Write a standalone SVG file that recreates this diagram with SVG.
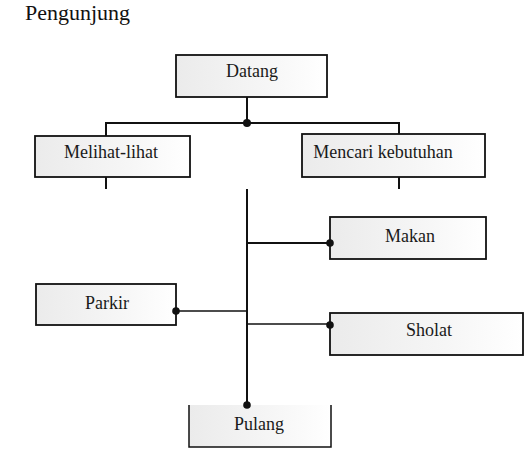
<svg xmlns="http://www.w3.org/2000/svg" width="531" height="456" viewBox="0 0 531 456">
<defs>
<linearGradient id="g" x1="0" y1="0" x2="1" y2="0">
<stop offset="0" stop-color="#ebebeb"/>
<stop offset="0.6" stop-color="#f6f6f6"/>
<stop offset="1" stop-color="#ffffff"/>
</linearGradient>
</defs>
<style>
.box{fill:url(#g);stroke:#111;stroke-width:1.8}
.lbl{font-family:"Liberation Serif","Times New Roman",serif;font-size:18px;fill:#1a1a1a;text-anchor:middle}
.title{font-family:"Liberation Serif","Times New Roman",serif;font-size:22px;fill:#111}
.ln{stroke:#111;stroke-width:2;fill:none}
.thin{stroke:#111;stroke-width:1.5;fill:none}
.dot{fill:#111}
</style>
<rect width="531" height="456" fill="#fff"/>
<text class="title" x="25" y="20">Pengunjung</text>
<g id="connectors">
<line class="ln" x1="247" y1="97" x2="247" y2="123"/>
<line class="ln" x1="106" y1="123" x2="399" y2="123"/>
<line class="ln" x1="106" y1="122" x2="106" y2="136"/>
<line class="ln" x1="399" y1="122" x2="399" y2="134"/>
<line class="ln" x1="106" y1="177" x2="106" y2="189"/>
<line class="ln" x1="399" y1="177" x2="399" y2="189"/>
<line class="ln" x1="247" y1="189" x2="247" y2="405"/>
<line class="ln" x1="247" y1="243" x2="330" y2="243"/>
<line class="thin" x1="176" y1="311" x2="247" y2="311"/>
<line class="thin" x1="247" y1="324" x2="330" y2="324"/>
</g>
<g id="datang">
<rect class="box" x="176" y="55" width="151" height="42"/>
<text class="lbl" x="252" y="77">Datang</text>
</g>
<g id="melihat">
<rect class="box" x="35" y="136" width="155" height="41"/>
<text class="lbl" x="111" y="158">Melihat-lihat</text>
</g>
<g id="mencari">
<rect class="box" x="302" y="134" width="183" height="43"/>
<text class="lbl" x="383" y="158">Mencari kebutuhan</text>
</g>
<g id="makan">
<rect class="box" x="330" y="217" width="156" height="42"/>
<text class="lbl" x="410" y="242">Makan</text>
</g>
<g id="parkir">
<rect class="box" x="36" y="284" width="140" height="41"/>
<text class="lbl" x="107" y="309">Parkir</text>
</g>
<g id="sholat">
<rect class="box" x="330" y="313" width="193" height="42"/>
<text class="lbl" x="429" y="336">Sholat</text>
</g>
<g id="pulang">
<rect x="189" y="405" width="142" height="42" fill="url(#g)"/>
<path class="thin" d="M189 405 V447 H331 V405" stroke-width="1.8"/>
<text class="lbl" x="259" y="430">Pulang</text>
</g>
<g id="junctions">
<circle class="dot" cx="247" cy="123" r="4"/>
<circle class="dot" cx="330" cy="243" r="3.8"/>
<circle class="dot" cx="176" cy="311" r="3.8"/>
<circle class="dot" cx="330" cy="325" r="3.8"/>
<circle class="dot" cx="247" cy="405" r="3.8"/>
</g>
</svg>
